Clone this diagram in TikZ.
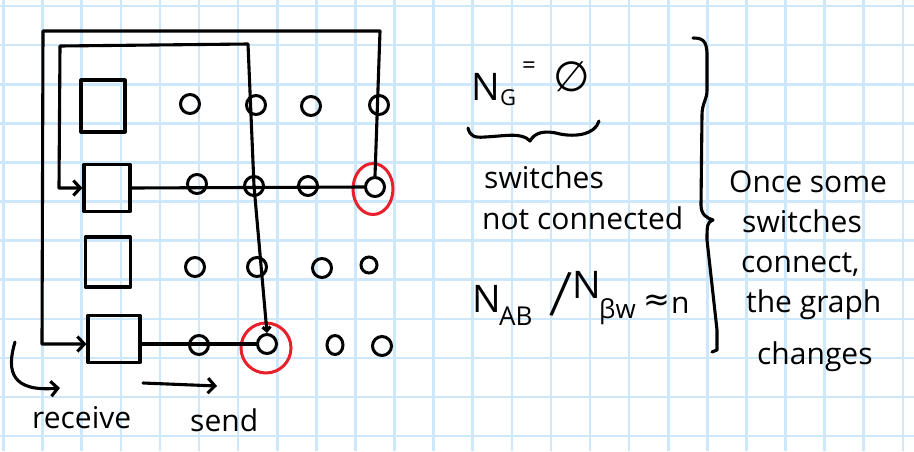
\documentclass[tikz,border=0pt]{standalone}
\usepackage{fontspec}
\setmainfont{Open Sans}
\newfontfamily\symfont{DejaVu Sans}
\usetikzlibrary{arrows.meta,shapes.geometric}
\definecolor{gridblue}{HTML}{CDE8FB}
\definecolor{penred}{HTML}{E8202A}
\tikzset{
  pen/.style={line width=3.1pt, line cap=round, line join=round},
  tipped/.style={pen, -{Straight Barb[length=7pt,width=15pt]}},
  smalltip/.style={pen, -{Straight Barb[length=4pt,width=8pt]}},
  box/.style={draw, pen, inner sep=0pt},
  sw/.style={draw, ellipse, line width=3pt, minimum width=19pt, minimum height=19pt, inner sep=0pt},
  hit/.style={draw=penred, line width=3pt, ellipse, inner sep=0pt},
  hand/.style={font=\fontsize{30}{34}\selectfont, inner sep=0pt, anchor=base west},
}
\begin{document}
\begin{tikzpicture}[x=1pt,y=-1pt]
\path[fill=white] (0,0) rectangle (914,451);
\useasboundingbox (0,0) rectangle (914,451);
\foreach \k in {0,...,23} \draw[gridblue, line width=2.6pt] ({3.5+39.1*\k},0) -- ({3.5+39.1*\k},451);
\foreach \k in {0,...,11} \draw[gridblue, line width=2.6pt] (0,{6+39.1*\k}) -- (914,{6+39.1*\k});

% receive boxes
\node[box, minimum width=44pt, minimum height=52pt] (b1) at (103,106) {};
\node[box, minimum width=46pt, minimum height=47pt] (b2) at (107,188) {};
\node[box, minimum width=45pt, minimum height=50pt] (b3) at (108,262) {};
\node[box, minimum width=52pt, minimum height=47pt] (b4) at (114,339) {};

% switches
\node[sw] (s11) at (190,104) {};
\node[sw] (s12) at (256,105) {};
\node[sw] (s13) at (311,106) {};
\node[sw] (s14) at (379,105) {};
\node[sw] (s21) at (197,184) {};
\node[sw] (s22) at (254,186) {};
\node[sw] (s23) at (308,186) {};
\node[sw] (s24) at (375,187) {};
\node[sw] (s31) at (195,267) {};
\node[sw] (s32) at (257,267) {};
\node[sw] (s33) at (322,268) {};
\node[sw, minimum width=16pt, minimum height=16pt] (s34) at (369,265) {};
\node[sw] (s41) at (199,345) {};
\node[sw] (s42) at (267,344) {};
\node[sw, minimum width=16pt] (s43) at (335,345) {};
\node[sw] (s44) at (382,346) {};

% red marks
\node[hit, minimum width=40pt, minimum height=51pt] (r1) at (373,189) {};
\node[hit, minimum width=50pt, minimum height=50pt] (r2) at (266,348) {};

% rows
\draw[pen] (b2.east) -- (s24.west);
\draw[pen] (b4.east |- s42.west) -- (s42.west);

% outer loop
\coordinate (o1) at (380,31);
\coordinate (o2) at (43,31);
\coordinate (o3) at (42,344);
\draw[tipped] (s24.north) -- (o1) -- (o2) -- (o3) -- (o3 -| b4.west);

% inner loop
\coordinate (i1) at (60,46);
\coordinate (i2) at (248,44);
\coordinate (i3) at (59,188);
\draw[tipped] (s22.center) -- (i2) -- (i1) -- (i3) -- (b2.west);
\draw[smalltip] (s22.center) -- (s42.north);

% receive / send
\coordinate (ra) at (15,342);
\coordinate (rb) at (60,388);
\draw[tipped] (ra) .. controls (6,372) and (12,392) .. (rb);
\coordinate (sa) at (143,383);
\coordinate (sb) at (217,386);
\draw[tipped] (sa) -- (sb);
\node[hand] (trecv) at (32,428) {receive};
\node[hand] (tsend) at (190,431) {send};

% N_G = empty
\node[font=\fontsize{38}{40}\selectfont, inner sep=0pt, anchor=base west] (ng) at (471,100) {N};
\node[font=\fontsize{22}{24}\selectfont, inner sep=0pt, anchor=base west] (ngs) at (500,105) {G};
\node[font=\fontsize{24}{26}\selectfont, inner sep=0pt] (eq) at (529,68) {=};
\node[font=\symfont\fontsize{42}{44}\selectfont, inner sep=0pt] (empty) at (572,77) {∅};
\draw[pen] (468,128) .. controls (470,136) and (474,138) .. (485,137)
  .. controls (505,136) and (522,132) .. (530,141)
  .. controls (535,132) and (545,130) .. (560,134)
  .. controls (575,137) and (595,135) .. (599,121);
\node[hand] (tsw) at (484,188) {switches};
\node[hand] (tnc) at (482,229) {not connected};

% ratio
\node[font=\fontsize{38}{40}\selectfont, inner sep=0pt, anchor=base west] (nab) at (472,312) {N};
\node[font=\fontsize{26}{28}\selectfont, inner sep=0pt, anchor=base west] (nabs) at (499,325) {AB};
\node[font=\fontsize{32}{34}\selectfont, inner sep=0pt, rotate=-10] (slash) at (561,294) {\scalebox{1.3}[2]{/}};
\node[font=\fontsize{38}{40}\selectfont, inner sep=0pt, anchor=base west] (nbw) at (572,298) {N};
\node[font=\fontsize{26}{28}\selectfont, inner sep=0pt, anchor=base west] (nbws) at (599,318) {βw};
\node[font=\symfont\fontsize{32}{34}\selectfont, inner sep=0pt] (approx) at (657,303) {≈};
\node[hand] (tn) at (671,313) {n};

% big brace
\draw[pen] (693,38) .. controls (702,38) and (707,40) .. (707,55) -- (707,90)
  .. controls (707,100) and (702,103) .. (702,115) -- (701,205)
  .. controls (701,215) and (707,218) .. (713,220)
  .. controls (707,222) and (707,226) .. (707,240) -- (717,330) -- (717,350) -- (712,352);

\node[hand] (t1) at (729,192) {Once some};
\node[hand] (t2) at (742,232) {switches};
\node[hand] (t3) at (741,272) {connect,};
\node[hand] (t4) at (746,312) {the graph};
\node[hand] (t5) at (757,364) {changes};
\end{tikzpicture}
\end{document}
